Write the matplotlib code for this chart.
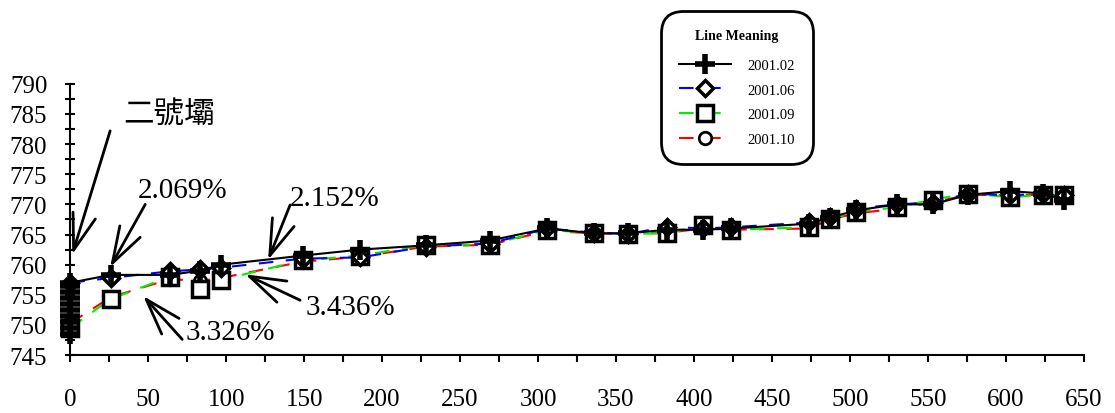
import matplotlib
matplotlib.use("Agg")
import matplotlib.pyplot as plt
from matplotlib.ticker import MultipleLocator

# distance along the dam (m) and crest elevation readings
x_pts = [0, 26, 64, 83, 97, 149, 186, 228, 269, 306, 336, 358, 383, 406,
         424, 474, 487, 504, 530, 553, 576, 603, 624, 637]

# 2001.02 has a column of readings on the upstream face (x = 0)
x_0102 = [0, 0, 0, 0, 0, 0, 0, 0, 0] + x_pts
y_0102 = [748.5, 749.5, 750.5, 751.5, 752.5, 753.5, 754.5, 755.5, 756.5,
          757, 758.3, 758.3, 759.0, 760.0, 761.5, 762.5, 763.2, 764.0, 766.0,
          765.2, 765.2, 765.8, 765.8, 766.0, 766.8, 767.8, 769.0, 770.0,
          770.0, 771.6, 772.2, 771.8, 770.8]

y_0106 = [757, 757.8, 758.9, 759.2, 759.5, 761.0, 761.2, 763.0, 763.5, 766.0,
          765.3, 765.1, 766.3, 766.0, 766.2, 767.0, 767.9, 769.3, 770.0, 770.3,
          771.8, 771.5, 771.8, 771.5]
y_0109 = [749.5, 754.3, 758.0, 756.0, 757.5, 760.7, 761.5, 763.3, 763.3, 765.8,
          765.2, 765.1, 765.2, 766.6, 765.8, 766.2, 767.5, 768.8, 769.5, 770.8,
          771.8, 771.2, 771.6, 771.5]
y_0110 = [750.3, 754.6, 757.6, 757.3, 757.8, 760.5, 761.3, 763.0, 763.3, 765.6,
          765.2, 765.1, 765.3, 766.0, 765.8, 766.0, 767.5, 768.5, 769.3, 770.3,
          771.6, 771.5, 771.6, 771.4]

labels = ["2001.02", "2001.06", "2001.09", "2001.10"]

serif = "Liberation Serif"

fig = plt.figure(figsize=(11.15, 4.14), dpi=100)
ax = fig.add_axes([0.063, 0.14, 0.909, 0.655])

lw = 1.5
ax.plot(x_pts, y_0110, color="red", lw=lw, dashes=(7, 6), marker="o", ms=9,
        mec="black", mfc="white", mew=2, label=labels[3], zorder=3, clip_on=False)
ax.plot(x_pts, y_0109, color="#00ee00", lw=lw, dashes=(7, 6), marker="s", ms=11,
        mec="black", mfc="white", mew=2.5, label=labels[2], zorder=4, clip_on=False)
ax.plot(x_pts, y_0106, color="blue", lw=lw, dashes=(7, 6), marker="D", ms=8,
        mec="black", mfc="white", mew=2.5, label=labels[1], zorder=5, clip_on=False)
ax.plot(x_0102, y_0102, color="black", lw=lw, marker="+", ms=14, mew=4,
        label=labels[0], zorder=6, clip_on=False)

ax.set_xlim(0, 650)
ax.set_ylim(745, 790)
ax.xaxis.set_major_locator(MultipleLocator(50))
ax.xaxis.set_minor_locator(MultipleLocator(25))
ax.yaxis.set_major_locator(MultipleLocator(5))
ax.yaxis.set_minor_locator(MultipleLocator(2.5))
for s in ["top", "right"]:
    ax.spines[s].set_visible(False)
for s in ["left", "bottom"]:
    ax.spines[s].set_linewidth(1.5)
ax.tick_params(axis="x", which="both", direction="out", length=5, width=1.5,
               pad=19, labelsize=18)
ax.tick_params(axis="y", which="both", direction="inout", length=7, width=1.5,
               pad=13, labelsize=18)
for t in ax.get_xticklabels() + ax.get_yticklabels():
    t.set_fontfamily(serif)

# annotations
arrow = dict(arrowstyle="->,head_length=1.3,head_width=0.42", lw=2,
             color="black", shrinkA=0, shrinkB=0, mutation_scale=20)
arrows = [((25.6, 782.2), (1.3, 761.7)),
          ((48.1, 770.0), (25.6, 759.6)),
          ((141.0, 769.9), (126.9, 760.8)),
          ((71.8, 747.6), (46.8, 754.8)),
          ((147.4, 754.1), (112.2, 758.4))]
for start, tip in arrows:
    ax.annotate("", xy=tip, xytext=start, arrowprops=arrow, annotation_clip=False)

ax.text(34, 785.0, "二號壩", fontsize=22, family=["Noto Sans CJK TC", "DejaVu Sans"],
        ha="left", va="center")
notes = [(43, 772.4, "2.069%"), (141, 771.1, "2.152%"),
         (150.6, 753.0, "3.436%"), (73.7, 748.8, "3.326%")]
for nx, ny, txt in notes:
    ax.text(nx, ny, txt, fontsize=21, family=serif, ha="left", va="center")

handles, labs = ax.get_legend_handles_labels()
order = [3, 2, 1, 0]
leg = fig.legend([handles[i] for i in order], [labs[i] for i in order],
                 loc="upper center", bbox_to_anchor=(0.661, 0.988),
                 title="Line Meaning", handlelength=3.6, handletextpad=1.1,
                 labelspacing=0.8, borderpad=1.2, fancybox=True,
                 prop={"family": serif, "size": 10.5},
                 title_fontproperties={"family": serif, "size": 10, "weight": "bold"},
                 framealpha=1, edgecolor="black")
leg.get_frame().set_linewidth(2)
leg.get_frame().set_boxstyle("round", pad=0, rounding_size=1.5)
leg._legend_box.sep = 12

fig.savefig("out.png", dpi=100)
